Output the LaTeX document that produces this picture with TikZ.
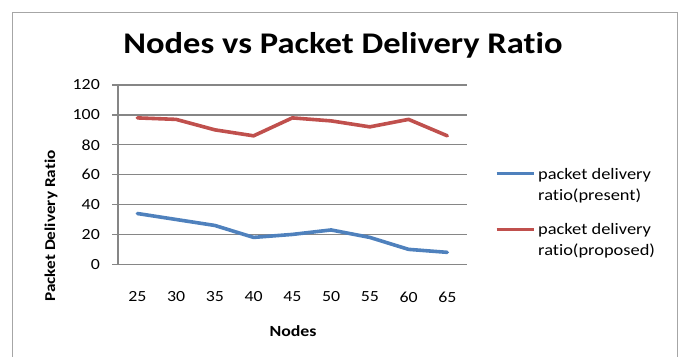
\documentclass[tikz,border=0pt]{standalone}
\usepackage{fontspec}
\setmainfont{Carlito}[FakeStretch=1.15,Ligatures=CommonOff]
\definecolor{serblue}{HTML}{4F81BD}
\definecolor{serred}{HTML}{C0504D}
\definecolor{gridgray}{HTML}{868686}
\begin{document}
\begin{tikzpicture}[x=1pt,y=-1pt,
  grid/.style={gridgray,line width=1.3pt},
  series/.style={line width=3.6pt,line join=round,line cap=round},
  tick/.style={font=\fontsize{15.5}{15.5}\selectfont,inner sep=0pt},
  legtext/.style={font=\fontsize{16}{21}\selectfont,align=left,inner sep=0pt,anchor=west}]
\useasboundingbox (0,0) rectangle (679,356);
\draw[gray!70,line width=1pt] (12,12) -- (677.5,12) -- (677.5,370);
\draw[gray!70,line width=1pt] (12,12) -- (12,370);
\node[font=\bfseries\fontsize{30}{30}\selectfont,inner sep=0pt] (title) at (343,45) {Nodes vs Packet Delivery Ratio};
% grid
\foreach \v in {0,20,...,120}{
  \draw[grid] (112,{264.3-1.494*\v}) -- (467,{264.3-1.494*\v});
  \node[tick,anchor=east] (yl\v) at (100,{264.3-1.494*\v}) {\v};
}
\draw[grid] (118,85) -- (118,264.3);
\foreach \n [count=\i from 0] in {25,30,...,65}{
  \node[tick] (xl\n) at ({118+38.74*(\i+0.5)},297) {\n};
}
\node[font=\bfseries\fontsize{15.5}{15.5}\selectfont,inner sep=0pt] (xtitle) at (293,331) {Nodes};
\node[font=\bfseries\fontsize{15}{15}\selectfont,inner sep=0pt,rotate=90] (ytitle) at (51,226) {Packet Delivery Ratio};
\begin{scope}[shift={(118,264.3)},x=38.74pt,y=1.494pt]
\draw[series,serred] (0.5,98) -- (1.5,97) -- (2.5,90) -- (3.5,86) -- (4.5,98) -- (5.5,96) -- (6.5,92) -- (7.5,97) -- (8.5,86);
\draw[series,serblue] (0.5,34) -- (1.5,30) -- (2.5,26) -- (3.5,18) -- (4.5,20) -- (5.5,23) -- (6.5,18) -- (7.5,10) -- (8.5,8);
\end{scope}
% legend
\coordinate (lb1) at (496.5,173);
\coordinate (lb2) at (534,173);
\coordinate (lr1) at (496.5,229);
\coordinate (lr2) at (534,229);
\draw[serblue,line width=3pt] (lb1) -- (lb2);
\draw[serred,line width=3pt] (lr1) -- (lr2);
\node[legtext] (leg1) at (538,186) {packet delivery\\ratio(present)};
\node[legtext] (leg2) at (538,241) {packet delivery\\ratio(proposed)};
\end{tikzpicture}
\end{document}
